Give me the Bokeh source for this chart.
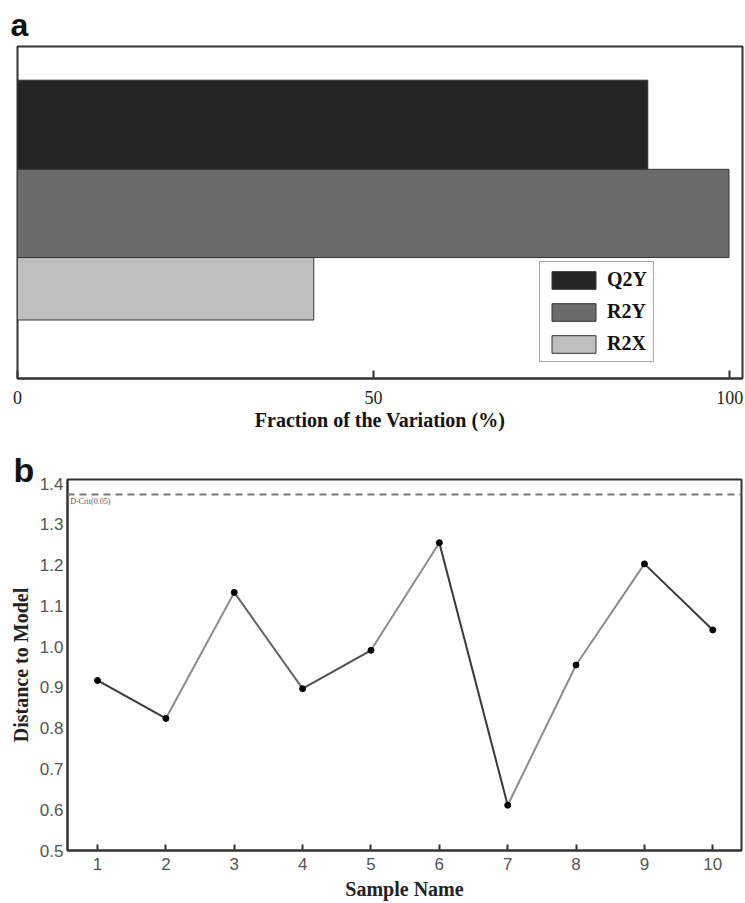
from bokeh.plotting import figure
from bokeh.models import (Range1d, FixedTicker, Legend, LegendItem, Span, Label,
                          PrintfTickFormatter)
from bokeh.embed import file_html
from bokeh.resources import INLINE

# ---------------- data ----------------
metrics = ["Q2Y", "R2Y", "R2X"]
fraction = [88.5, 99.9, 41.6]
a_ticks = [0, 50, 100]

samples = [1, 2, 3, 4, 5, 6, 7, 8, 9, 10]
distance = [0.917, 0.824, 1.133, 0.897, 0.991, 1.255, 0.611, 0.955, 1.203, 1.041]
d_crit = 1.373
b_yticks = [0.5, 0.6, 0.7, 0.8, 0.9, 1.0, 1.1, 1.2, 1.3, 1.4]

# ---------------- layout / style ----------------
bar_pos = [2.862, 1.862, 1.012]
bar_h = [1.006, 0.995, 0.704]
bar_colors = ["#242424", "#6b6b6b", "#bfbfbf"]
seg_colors = ["#3a3a3a", "#8c8c8c", "#666666", "#505050", "#8c8c8c",
              "#3a3a3a", "#8c8c8c", "#8c8c8c", "#3a3a3a"]
SERIF = "Liberation Serif"
SANS = "Liberation Sans"
FRAME = "#333333"

# ---------------- panel a ----------------
p1 = figure(width=745, height=440, x_range=Range1d(0, 101.8), y_range=Range1d(0, 3.745),
            output_backend="svg", toolbar_location=None, y_axis_location=None,
            min_border_left=17, min_border_right=3, min_border_top=43, min_border_bottom=62)
p1.grid.visible = False
p1.outline_line_color = FRAME
p1.outline_line_width = 2
p1.title.text = "a"
p1.title.align = "left"
p1.title.offset = -7
p1.title.standoff = 8
p1.title.text_font = SANS
p1.title.text_font_style = "bold"
p1.title.text_font_size = "32px"
p1.title.text_color = "#111111"

items = []
for i, m in enumerate(metrics):
    r = p1.hbar(y=[bar_pos[i]], height=[bar_h[i]], left=0, right=[fraction[i]],
                fill_color=bar_colors[i], line_color="#333333", line_width=1)
    items.append(LegendItem(label=m, renderers=[r]))

leg = Legend(items=items, location=(522, 16), glyph_width=55, glyph_height=22,
             spacing=9, padding=6, margin=0, label_standoff=6,
             label_text_font=SERIF, label_text_font_style="bold",
             label_text_font_size="20px", label_text_color="#111111",
             border_line_color="#555555", border_line_width=1.5)
p1.add_layout(leg)

ax = p1.xaxis[0]
ax.ticker = FixedTicker(ticks=a_ticks)
ax.major_tick_in = 8
ax.major_tick_out = 0
ax.minor_tick_line_color = None
ax.axis_line_color = FRAME
ax.axis_line_width = 2
ax.major_tick_line_color = FRAME
ax.major_tick_line_width = 2
ax.major_label_text_font = SERIF
ax.major_label_text_font_size = "18px"
ax.major_label_text_color = "#222222"
ax.major_label_standoff = 12
ax.axis_label = "Fraction of the Variation (%)"
ax.axis_label_text_font = SERIF
ax.axis_label_text_font_style = "bold"
ax.axis_label_text_font_size = "20px"
ax.axis_label_text_color = "#111111"
ax.axis_label_standoff = 2

# ---------------- panel b ----------------
p2 = figure(width=745, height=462, x_range=Range1d(0.561, 10.42), y_range=Range1d(0.5, 1.41),
            output_backend="svg", toolbar_location=None,
            min_border_left=67, min_border_right=4, min_border_top=39, min_border_bottom=49)
p2.grid.visible = False
p2.outline_line_color = FRAME
p2.outline_line_width = 2
p2.title.text = "b"
p2.title.align = "left"
p2.title.offset = -54
p2.title.standoff = -18
p2.title.text_font = SANS
p2.title.text_font_style = "bold"
p2.title.text_font_size = "34px"
p2.title.text_color = "#111111"

xs = [[samples[i], samples[i + 1]] for i in range(len(samples) - 1)]
ys = [[distance[i], distance[i + 1]] for i in range(len(distance) - 1)]
p2.multi_line(xs=xs, ys=ys, line_color=seg_colors, line_width=2)
p2.scatter(samples, distance, size=6, color="black")

p2.add_layout(Span(location=d_crit, dimension="width", line_dash="7 5",
                   line_color="#777777", line_width=2))
p2.add_layout(Label(x=0.6, y=d_crit, text="D-Crit(0.05)", text_font=SERIF,
                    text_font_size="8px", text_color="#555555", text_baseline="top",
                    y_offset=-2))

xa = p2.xaxis[0]
xa.ticker = FixedTicker(ticks=samples)
xa.major_tick_in = 6
xa.major_tick_out = 0
xa.minor_tick_line_color = None
xa.axis_line_color = FRAME
xa.axis_line_width = 2
xa.major_tick_line_color = FRAME
xa.major_tick_line_width = 2
xa.major_label_text_font = SANS
xa.major_label_text_font_size = "17px"
xa.major_label_text_color = "#555555"
xa.major_label_standoff = 7
xa.axis_label = "Sample Name"
xa.axis_label_text_font = SERIF
xa.axis_label_text_font_style = "bold"
xa.axis_label_text_font_size = "20px"
xa.axis_label_text_color = "#222222"
xa.axis_label_standoff = 5

ya = p2.yaxis[0]
ya.ticker = FixedTicker(ticks=b_yticks)
ya.formatter = PrintfTickFormatter(format="%.1f")
ya.major_tick_in = 0
ya.major_tick_out = 0
ya.minor_tick_line_color = None
ya.axis_line_color = FRAME
ya.axis_line_width = 2
ya.major_label_text_font = SANS
ya.major_label_text_font_size = "17px"
ya.major_label_text_color = "#555555"
ya.major_label_standoff = 4
ya.axis_label = "Distance to Model"
ya.axis_label_text_font = SERIF
ya.axis_label_text_font_style = "bold"
ya.axis_label_text_font_size = "20px"
ya.axis_label_text_color = "#222222"
ya.axis_label_standoff = 5

open("out.html", "w").write(file_html([p1, p2], INLINE))
